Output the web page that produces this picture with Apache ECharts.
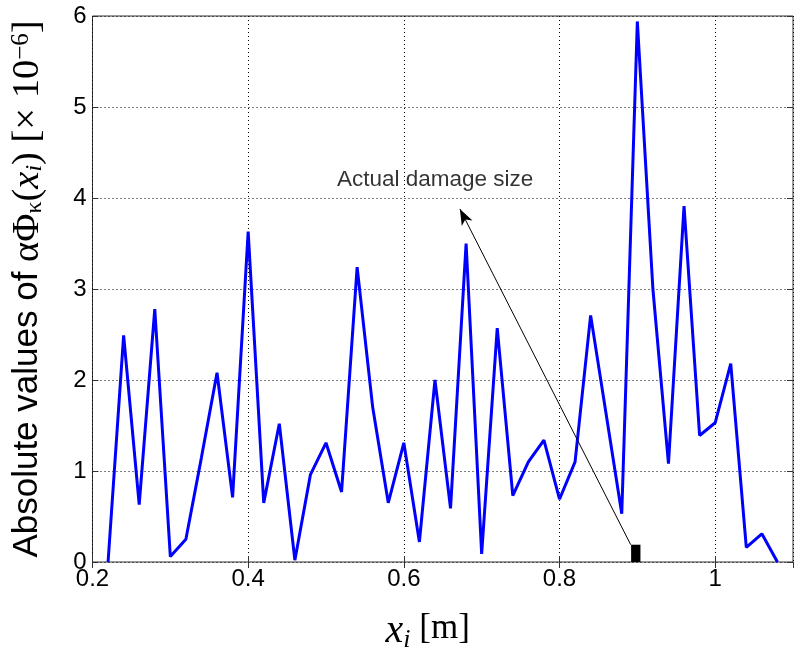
<!DOCTYPE html>
<html><head><meta charset="utf-8">
<script src="https://cdn.jsdelivr.net/npm/echarts@6/dist/echarts.min.js"></script>
<style>html,body{margin:0;padding:0;background:#fff}#c{width:795px;height:663px}</style>
</head><body><div id="c"></div>
<script>
// ---- data ----
const xPositions = [0.22,0.24,0.26,0.28,0.30,0.32,0.34,0.36,0.38,0.40,0.42,0.44,0.46,0.48,0.50,0.52,0.54,0.56,0.58,0.60,0.62,0.64,0.66,0.68,0.70,0.72,0.74,0.76,0.78,0.80,0.82,0.84,0.86,0.88,0.90,0.92,0.94,0.96,0.98,1.00,1.02,1.04,1.06,1.08];
const absValues  = [0,2.49,0.63,2.78,0.06,0.25,1.15,2.08,0.71,3.63,0.65,1.52,0.02,0.96,1.31,0.77,3.24,1.70,0.65,1.31,0.22,2.00,0.59,3.50,0.09,2.57,0.73,1.10,1.34,0.69,1.10,2.71,1.62,0.53,5.94,3.00,1.08,3.91,1.39,1.53,2.18,0.16,0.31,0];
const damageStart = [0.892];
const damageEnd = [0.904];
const damageSize = [0.19];
const arrowFrom = [0.8915, 0.19];
const arrowTo = [0.672, 3.88];
const annotationAt = [0.514, 4.2];
const annotationText = 'Actual damage size';
const xRange = [0.2, 1.1];
const yRange = [0, 6];

const chart = echarts.init(document.getElementById('c'), null, {renderer: 'canvas'});
const sans = 'Liberation Sans, Arial, sans-serif';
const serif = 'Liberation Serif, Times New Roman, serif';
const dotted = {type: [1, 3], color: '#000', width: 1};
const tickStyle = {inside: true, length: 6, lineStyle: {color: '#333', width: 1}};

const option = {
  animation: false,
  backgroundColor: '#fff',
  grid: {left: 90, right: 2, top: 16, bottom: 101, show: true, borderColor: '#333', borderWidth: 1, backgroundColor: 'transparent'},
  xAxis: [{
    type: 'value', min: xRange[0], max: xRange[1], interval: 0.2, position: 'bottom',
    axisLine: {show: false}, axisTick: tickStyle,
    axisLabel: {color: '#000', fontSize: 24, fontFamily: sans, margin: 5, showMaxLabel: false},
    splitLine: {show: true, lineStyle: dotted},
    name: '{x|x}{i|i}{n| [m]}{pad|}', nameLocation: 'middle', nameGap: 49,
    nameTextStyle: {rich: {
      x: {fontFamily: serif, fontStyle: 'italic', fontSize: 40, color: '#000', lineHeight: 38, verticalAlign: 'top'},
      i: {fontFamily: serif, fontStyle: 'italic', fontSize: 26, color: '#000', lineHeight: 24, verticalAlign: 'bottom', padding: [0,0,-4,0]},
      n: {fontFamily: serif, fontSize: 35, color: '#000', lineHeight: 38, verticalAlign: 'top'},
      pad: {width: 30}
    }}
  }, {
    type: 'value', min: xRange[0], max: xRange[1], interval: 0.2, position: 'top',
    axisLine: {show: false}, axisTick: tickStyle, axisLabel: {show: false}, splitLine: {show: false}
  }],
  yAxis: [{
    type: 'value', min: yRange[0], max: yRange[1], interval: 1, position: 'left',
    axisLine: {show: false}, axisTick: tickStyle,
    axisLabel: {color: '#000', fontSize: 24, fontFamily: sans, margin: 6},
    splitLine: {show: true, lineStyle: dotted},
    name: '{a|Absolute values of }{m|αΦ}{s|κ}{m|(}{mi|x}{si|i}{m|)}{m| [× 10}{sup|−6}{m|]}',
    nameLocation: 'middle', nameRotate: 90, nameGap: 46,
    nameTextStyle: {rich: {
      a: {fontFamily: sans, fontSize: 35, color: '#000', lineHeight: 38},
      m: {fontFamily: serif, fontSize: 38.5, color: '#000', lineHeight: 38},
      mi: {fontFamily: serif, fontStyle: 'italic', fontSize: 38.5, color: '#000', lineHeight: 38},
      s: {fontFamily: serif, fontSize: 24, color: '#000', lineHeight: 22, verticalAlign: 'bottom'},
      si: {fontFamily: serif, fontStyle: 'italic', fontSize: 24, color: '#000', lineHeight: 22, verticalAlign: 'bottom'},
      sup: {fontFamily: serif, fontSize: 25, color: '#000', lineHeight: 22, verticalAlign: 'top'}
    }}
  }, {
    type: 'value', min: yRange[0], max: yRange[1], interval: 1, position: 'right',
    axisLine: {show: false}, axisTick: tickStyle, axisLabel: {show: false}, splitLine: {show: false}
  }],
  series: [{
    type: 'line',
    data: xPositions.map((x, k) => [x, absValues[k]]),
    showSymbol: false, symbol: 'none',
    lineStyle: {color: '#0000ff', width: 3},
    z: 3,
    markLine: {
      silent: true, symbol: ['none', 'arrow'], symbolSize: [9, 16],
      lineStyle: {color: '#000', width: 1, type: 'solid'},
      label: {show: false},
      data: [[{coord: arrowFrom}, {coord: arrowTo}]]
    }
  }, {
    type: 'custom',
    data: damageStart.map((s, k) => [s, damageEnd[k], damageSize[k]]),
    renderItem: function (params, api) {
      const p0 = api.coord([api.value(0), api.value(2)]);
      const p1 = api.coord([api.value(1), 0]);
      return {type: 'rect', shape: {x: p0[0], y: p0[1], width: p1[0] - p0[0], height: p1[1] - p0[1]}, style: {fill: '#000'}};
    },
    z: 4
  }, {
    type: 'scatter',
    data: [{value: annotationAt, name: annotationText}],
    symbolSize: 0,
    label: {show: true, position: 'right', distance: 0, formatter: '{b}', color: '#000', fontSize: 22.5, fontFamily: sans},
    z: 5
  }]
};
chart.setOption(option);
</script>
</body></html>
